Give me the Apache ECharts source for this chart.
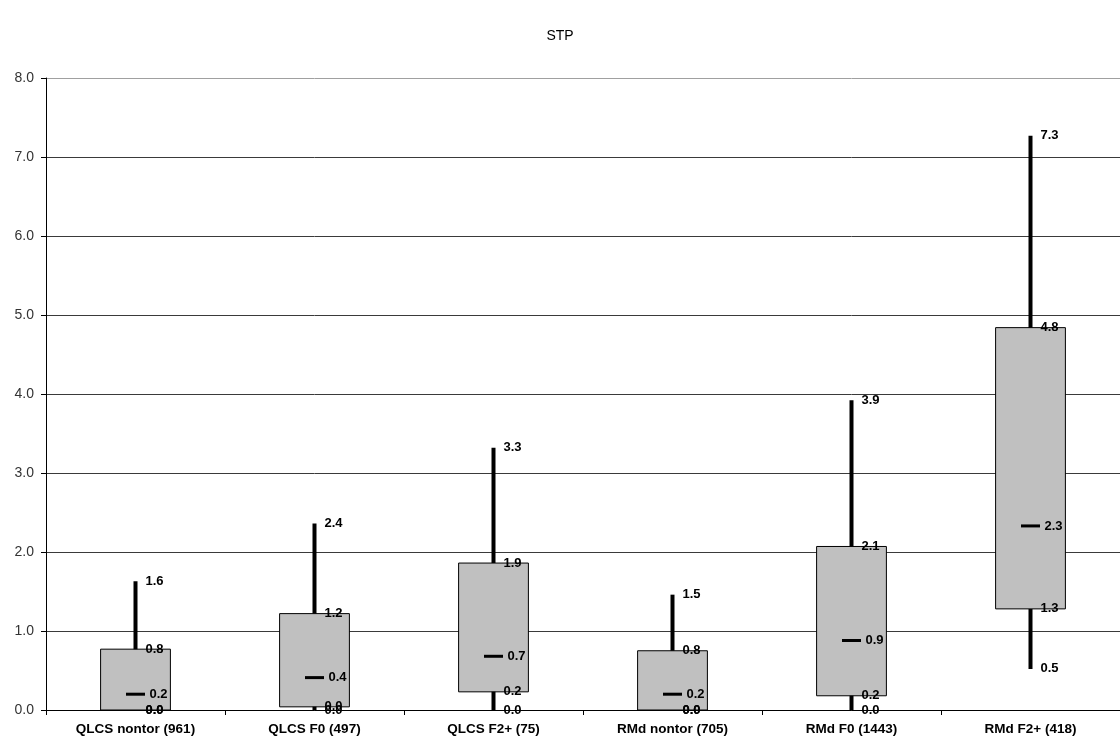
<!DOCTYPE html>
<html>
<head>
<meta charset="utf-8">
<script src="https://cdn.jsdelivr.net/npm/echarts@6/dist/echarts.min.js"></script>
<style>html,body{margin:0;padding:0;background:#fff}#c{width:1120px;height:744px}</style>
</head>
<body>
<div id="c"></div>
<script>
var categories = ['QLCS nontor (961)', 'QLCS F0 (497)', 'QLCS F2+ (75)', 'RMd nontor (705)', 'RMd F0 (1443)', 'RMd F2+ (418)'];
var minVals = [0.0, 0.0, 0.0, 0.0, 0.0, 0.52];
var q1Vals  = [0.0, 0.04, 0.23, 0.0, 0.18, 1.28];
var medVals = [0.2, 0.41, 0.68, 0.2, 0.88, 2.33];
var q3Vals  = [0.77, 1.22, 1.86, 0.75, 2.07, 4.84];
var maxVals = [1.63, 2.36, 3.32, 1.46, 3.92, 7.27];
var yTicks = [0, 1, 2, 3, 4, 5, 6, 7, 8];

var data = categories.map(function (c, i) {
  return [i, minVals[i], q1Vals[i], medVals[i], q3Vals[i], maxVals[i]];
});

var labelFont = 'bold 13px "Liberation Sans", Arial, sans-serif';

function renderItem(params, api) {
  var idx = api.value(0);
  var pMin = api.coord([idx, api.value(1)]);
  var pQ1 = api.coord([idx, api.value(2)]);
  var pMed = api.coord([idx, api.value(3)]);
  var pQ3 = api.coord([idx, api.value(4)]);
  var pMax = api.coord([idx, api.value(5)]);
  var cx = pMin[0];
  var bw = api.size([1, 0])[0] * 0.39;
  var children = [];
  children.push({
    type: 'line',
    shape: { x1: cx, y1: pMin[1], x2: cx, y2: pMax[1] },
    style: { stroke: '#000', lineWidth: 4 }
  });
  children.push({
    type: 'rect',
    shape: { x: cx - bw / 2, y: pQ3[1], width: bw, height: pQ1[1] - pQ3[1] },
    style: { fill: '#c0c0c0', stroke: '#000', lineWidth: 1 }
  });
  children.push({
    type: 'line',
    shape: { x1: cx - 9.5, y1: pMed[1], x2: cx + 9.5, y2: pMed[1] },
    style: { stroke: '#000', lineWidth: 3 }
  });
  var labs = [[1, pMin, 10], [2, pQ1, 10], [4, pQ3, 10], [5, pMax, 10], [3, pMed, 14]];
  labs.forEach(function (l) {
    children.push({
      type: 'text',
      style: {
        x: cx + l[2], y: l[1][1],
        text: api.value(l[0]).toFixed(1),
        font: labelFont,
        fill: '#000',
        align: 'left',
        verticalAlign: 'middle'
      }
    });
  });
  return { type: 'group', children: children };
}

var gridColors = yTicks.map(function (t, i) { return i === yTicks.length - 1 ? '#a0a0a0' : '#3a3a3a'; });

var chart = echarts.init(document.getElementById('c'), null, { renderer: 'canvas' });
chart.setOption({
  animation: false,
  backgroundColor: '#fff',
  title: {
    text: 'STP',
    left: 'center',
    top: 24,
    textStyle: { fontFamily: '"Liberation Sans", Arial, sans-serif', fontSize: 14, fontWeight: 'normal', color: '#000' }
  },
  grid: { left: 46, right: 0, top: 78, bottom: 34, containLabel: false },
  xAxis: {
    type: 'category',
    data: categories,
    boundaryGap: true,
    axisLine: { lineStyle: { color: '#000', width: 1 } },
    axisTick: { show: true, length: 5, lineStyle: { color: '#000' } },
    axisLabel: {
      color: '#000', fontSize: 13.5, fontWeight: 'bold', margin: 12,
      fontFamily: '"Liberation Sans", Arial, sans-serif'
    },
    splitLine: { show: false }
  },
  yAxis: {
    type: 'value',
    min: yTicks[0],
    max: yTicks[yTicks.length - 1],
    interval: 1,
    axisLine: { show: true, lineStyle: { color: '#000', width: 1 } },
    axisTick: { show: true, length: 5, lineStyle: { color: '#000' } },
    axisLabel: {
      color: '#333', fontSize: 14, margin: 12,
      fontFamily: '"Liberation Sans", Arial, sans-serif',
      formatter: function (v) { return v.toFixed(1); }
    },
    splitLine: { show: true, lineStyle: { color: gridColors, width: 1 } }
  },
  series: [{
    type: 'custom',
    renderItem: renderItem,
    encode: { x: 0, y: [1, 2, 3, 4, 5] },
    data: data,
    z: 5
  }]
});
</script>
</body>
</html>
